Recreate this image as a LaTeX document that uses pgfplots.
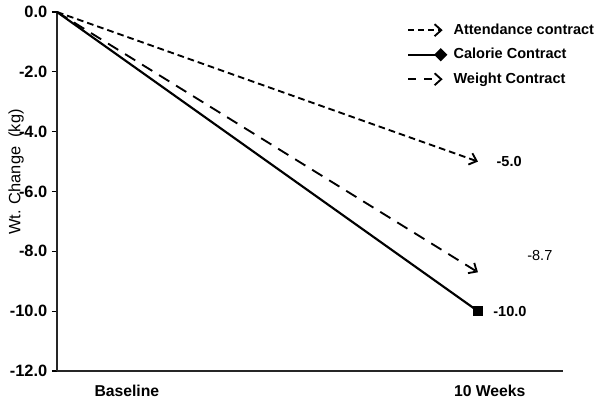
\documentclass[border=0pt]{standalone}
\usepackage{fontspec}
\setmainfont{Liberation Sans}
\usepackage{pgfplots}
\pgfplotsset{compat=1.18}
\usetikzlibrary{arrows.meta}

\begin{document}
\begin{tikzpicture}
\begin{axis}[
    scale only axis,
    width=379.5pt, height=269.25pt,
    xmin=0, xmax=1.202,
    ymin=-12, ymax=0,
    clip=false,
    axis x line*=bottom,
    axis y line*=left,
    axis line style={line width=1.5pt, black!85},
    xtick={0.166,1.028},
    xticklabels={Baseline,10 Weeks},
    major x tick style={draw=none},
    x tick label style={font=\fontsize{11.8}{13}\selectfont\bfseries, yshift=-3pt},
    ytick={-12,-10,-8,-6,-4,-2,0},
    yticklabels={-12.0,-10.0,-8.0,-6.0,-4.0,-2.0,0.0},
    y tick label style={font=\fontsize{12.3}{14}\selectfont\bfseries},
    tick align=outside,
    major tick length=3.75pt,
    major y tick style={line width=0.8pt, black},
    ylabel={Wt. Change\ \ (kg)},
    ylabel style={font=\fontsize{12.3}{14}\selectfont, at={(axis description cs:-0.081,0.554)}, anchor=center},
    legend style={
        at={(rel axis cs:0.692,0.975)}, anchor=north west,
        draw=none, fill=none, inner sep=0pt,
        font=\fontsize{10.9}{12}\selectfont\bfseries,
        row sep=5pt,
        /tikz/every odd column/.append style={column sep=3pt},
    },
    legend cell align=left,
]
% Attendance contract
\addplot[black, line width=1.4pt, dash pattern=on 5pt off 3pt,
    -{Straight Barb[length=5pt,width=9pt,line width=1.4pt]},
    legend image code/.code={\draw[black, line width=1.4pt, dash pattern=on 4.5pt off 3pt,
    -{Straight Barb[length=5pt,width=9pt,line width=1.4pt]}] (0cm,0cm) -- (0.9cm,0cm);}]
    coordinates {(0,0) (1,-5.0)};
\addlegendentry{Attendance contract}
% Calorie contract
\addplot[black, line width=1.6pt, mark=square*, mark indices={2}, mark size=3.2pt,
    legend image code/.code={\draw[black, line width=1.6pt] (0cm,0cm) -- (0.85cm,0cm);
    \fill[black] (0.85cm,3.8pt) -- (0.85cm+3.8pt,0pt) -- (0.85cm,-3.8pt) -- (0.85cm-3.8pt,0pt) -- cycle;}]
    coordinates {(0,0) (1,-10.0)};
\addlegendentry{Calorie Contract}
% Weight contract
\addplot[black, line width=1.4pt, dash pattern=on 9pt off 6pt,
    -{Straight Barb[length=5pt,width=9pt,line width=1.4pt]},
    legend image code/.code={\draw[black, line width=1.4pt, dash pattern=on 6pt off 6pt,
    -{Straight Barb[length=5pt,width=9pt,line width=1.4pt]}] (0cm,0cm) -- (0.9cm,0cm);}]
    coordinates {(0,0) (1,-8.7)};
\addlegendentry{Weight Contract}

\node[font=\fontsize{10.9}{12}\selectfont\bfseries] at (axis cs:1.074,-5.0) {-5.0};
\node[font=\fontsize{10.9}{12}\selectfont] at (axis cs:1.147,-8.15) {-8.7};
\node[font=\fontsize{10.9}{12}\selectfont\bfseries] at (axis cs:1.076,-10.0) {-10.0};
\end{axis}
\pgfresetboundingbox
\path (-42.75pt,-21.75pt) rectangle (410.25pt,278.25pt);
\end{tikzpicture}
\end{document}
